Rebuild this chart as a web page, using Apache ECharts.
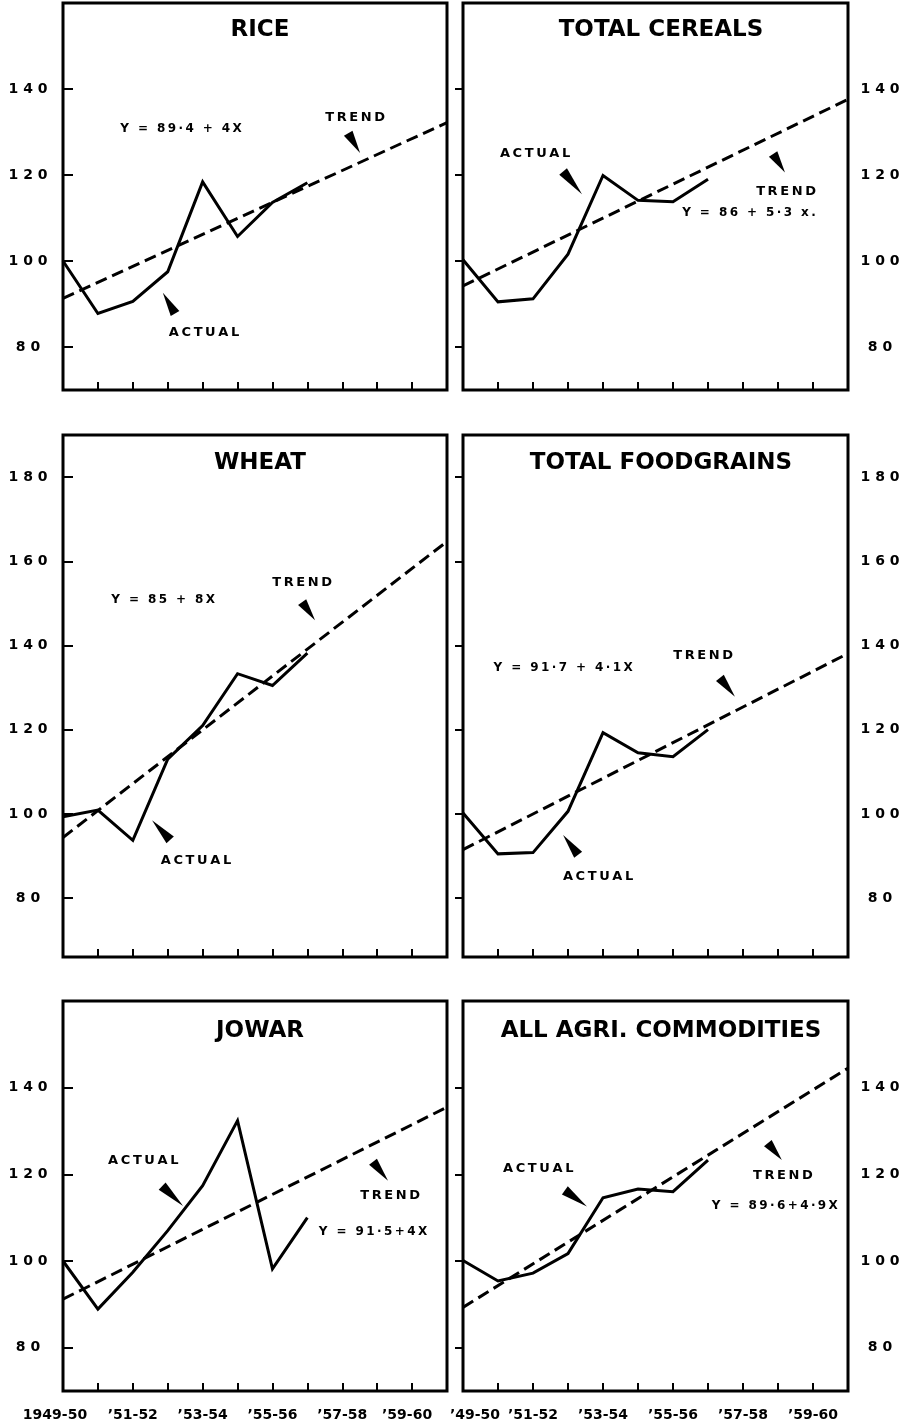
<!DOCTYPE html>
<html>
<head>
<meta charset="utf-8">
<script src="https://cdn.jsdelivr.net/npm/echarts@6/dist/echarts.min.js"></script>
<style>
  html, body { margin: 0; padding: 0; background: #fff; }
  #chart { width: 907px; height: 1423px; }
</style>
</head>
<body>
<div id="chart"></div>
<script>
// seasons on the x axis, 1949-50 is index 0, the box ends at 1960-61
const seasons = ['1949-50', '1950-51', '1951-52', '1952-53', '1953-54', '1954-55',
  '1955-56', '1956-57', '1957-58', '1958-59', '1959-60', '1960-61']
const labelSeasons = [0, 2, 4, 6, 8, 10]
const leftSeasonLabels = ['1949-50', '\u201951-52', '\u201953-54', '\u201955-56', '\u201957-58', '\u201959-60']
const rightSeasonLabels = ['\u201949-50', '\u201951-52', '\u201953-54', '\u201955-56', '\u201957-58', '\u201959-60']
const seasonTicks = [1, 2, 3, 4, 5, 6, 7, 8, 9, 10]

const indexTicksShort = [80, 100, 120, 140]
const indexTicksTall = [80, 100, 120, 140, 160, 180]

// index numbers, 1949-50 = 100 (actual: 1949-50 .. 1956-57)
const riceActual = [100, 87.8, 90.6, 97.5, 118.4, 105.7, 113.6, 118.2]
const cerealsActual = [100.3, 90.5, 91.2, 101.6, 119.9, 114.1, 113.8, 119]
const wheatActual = [99.3, 100.9, 93.7, 113, 121, 133.3, 130.5, 138.2]
const foodgrainsActual = [100.2, 90.5, 90.8, 100.6, 119.3, 114.5, 113.6, 120]
const jowarActual = [100, 88.9, 97.4, 107, 117.4, 132.4, 98.2, 110]
const agriActual = [100.1, 95.4, 97.2, 101.7, 114.6, 116.6, 116, 123.3]

// trend lines, value at the left edge (1949-50) and right edge of the box
const riceTrend = [91.3, 132.2]
const cerealsTrend = [94.2, 137.6]
const wheatTrend = [94.4, 164.7]
const foodgrainsTrend = [91.5, 138.1]
const jowarTrend = [91.2, 135.5]
const agriTrend = [89.3, 144.5]

const titles = ['RICE', 'TOTAL CEREALS', 'WHEAT', 'TOTAL FOODGRAINS', 'JOWAR', 'ALL AGRI. COMMODITIES']
const equations = ['Y = 89\u00b74 + 4X', 'Y = 86 + 5\u00b73 x.', 'Y = 85 + 8X', 'Y = 91\u00b77 + 4\u00b71X', 'Y = 91\u00b75+4X', 'Y = 89\u00b76+4\u00b79X']

const FONT = '"DejaVu Sans", sans-serif'

const cols = [{left: 63, width: 384, mid: 255}, {left: 463, width: 385, mid: 656}]
const rows = [
  {top: 3, height: 387, min: 70, max: 160, ticks: indexTicksShort, titleTop: 14},
  {top: 435, height: 522, min: 66, max: 190, ticks: indexTicksTall, titleTop: 447},
  {top: 1001, height: 390, min: 70, max: 160, ticks: indexTicksShort, titleTop: 1015}
]

// annotation spots, in axis units: [text, x, y] and wedges [baseX, baseY, tipX, tipY]
const panels = [
  {actual: riceActual, trend: riceTrend, row: 0, col: 0,
    notes: [[equations[0], 3.38, 130.8], ['TREND', 8.37, 133.3], ['ACTUAL', 4.04, 83.4]],
    wedges: [[8.17, 129.7, 8.51, 125.1], [3.21, 87.8, 2.86, 92.6]]},
  {actual: cerealsActual, trend: cerealsTrend, row: 0, col: 1,
    notes: [[equations[1], 8.17, 111.1], ['TREND', 9.23, 116.2], ['ACTUAL', 2.06, 124.9]],
    wedges: [[8.86, 124.9, 9.2, 120.6], [2.86, 120.8, 3.4, 115.5]]},
  {actual: wheatActual, trend: wheatTrend, row: 1, col: 0,
    notes: [[equations[2], 2.87, 150.8], ['TREND', 6.85, 155], ['ACTUAL', 3.81, 89]],
    wedges: [[6.85, 150.3, 7.22, 146], [3.07, 93.8, 2.55, 98.5]]},
  {actual: foodgrainsActual, trend: foodgrainsTrend, row: 1, col: 1,
    notes: [[equations[3], 2.86, 134.6], ['TREND', 6.86, 137.7], ['ACTUAL', 3.86, 85.1]],
    wedges: [[7.34, 132.3, 7.77, 127.8], [3.29, 90.3, 2.86, 95]]},
  {actual: jowarActual, trend: jowarTrend, row: 2, col: 0,
    notes: [[equations[4], 8.88, 106.7], ['TREND', 9.37, 115], ['ACTUAL', 2.3, 123.1]],
    wedges: [[8.88, 122.9, 9.31, 118.5], [2.84, 117.3, 3.44, 112.7]]},
  {actual: agriActual, trend: agriTrend, row: 2, col: 1,
    notes: [[equations[5], 8.91, 112.8], ['TREND', 9.14, 119.6], ['ACTUAL', 2.15, 121.4]],
    wedges: [[8.71, 127.2, 9.11, 123.3], [2.91, 116.3, 3.54, 112.6]]}
]

function spaced(s) {
  return s.split('').join('\u2009')
}

// season labels, the outer ones nudged a little like in the print
function seasonLabel(col, v) {
  const k = labelSeasons.indexOf(v)
  const text = (col === 0 ? leftSeasonLabels : rightSeasonLabels)[k]
  if (col === 0 && k === 0) return '{l|' + text + '}'
  if (col === 0 && k === labelSeasons.length - 1) return '{s|' + text + '}'
  if (col === 1 && k === 0) return '{r|' + text + '}'
  return text
}

function renderWedge(params, api) {
  const b = api.coord([api.value(0), api.value(1)])
  const t = api.coord([api.value(2), api.value(3)])
  const dx = t[0] - b[0], dy = t[1] - b[1]
  const len = Math.hypot(dx, dy)
  const nx = -dy / len * 5, ny = dx / len * 5
  return {
    type: 'polygon',
    shape: {points: [[b[0] + nx, b[1] + ny], [b[0] - nx, b[1] - ny], t]},
    style: {fill: '#000'}
  }
}

function noteRenderer(notes) {
  return function (params, api) {
    const p = api.coord([api.value(0), api.value(1)])
    const text = notes[params.dataIndex][0]
    const size = text.charAt(0) === 'Y' ? 12 : 13
    return {
      type: 'text',
      x: p[0],
      y: p[1],
      style: {
        text: spaced(text),
        fill: '#000',
        font: 'bold ' + size + 'px ' + FONT,
        align: 'center',
        verticalAlign: 'middle'
      }
    }
  }
}

const grid = [], xAxis = [], yAxis = [], title = [], series = []
const labelFont = {color: '#000', fontFamily: FONT, fontWeight: 'bold', fontSize: 14}

panels.forEach((p, i) => {
  const col = cols[p.col], row = rows[p.row]
  const bottomRow = p.row === 2
  grid.push({
    left: col.left, top: row.top, width: col.width, height: row.height,
    show: true, borderColor: '#000', borderWidth: 3, backgroundColor: 'transparent',
    outerBoundsMode: 'none', containLabel: false
  })
  title.push({
    text: titles[i], left: col.mid, top: row.titleTop, textAlign: 'center',
    textStyle: {fontFamily: FONT, fontWeight: 'bold', fontSize: 23, color: '#000'}
  })
  xAxis.push({
    gridIndex: i, type: 'value', min: 0, max: seasons.length - 1,
    axisLine: {show: false},
    splitLine: {show: false},
    axisTick: {show: true, inside: true, length: 8, customValues: seasonTicks,
      lineStyle: {color: '#000', width: 2}},
    axisLabel: Object.assign({
      show: bottomRow,
      customValues: labelSeasons,
      formatter: v => seasonLabel(p.col, v),
      margin: 17,
      rich: {
        l: Object.assign({padding: [0, 16, 0, 0]}, labelFont),
        s: Object.assign({padding: [0, 10, 0, 0]}, labelFont),
        r: Object.assign({padding: [0, 0, 0, 24]}, labelFont)
      }
    }, labelFont)
  })
  yAxis.push({
    gridIndex: i, type: 'value', min: row.min, max: row.max,
    position: p.col === 0 ? 'left' : 'right',
    axisLine: {show: false},
    splitLine: {show: false},
    axisTick: {show: true, inside: true, length: p.col === 0 ? 10 : 8, customValues: row.ticks,
      lineStyle: {color: '#000', width: 2}},
    axisLabel: Object.assign({
      customValues: row.ticks,
      formatter: v => String(v).split('').join(' '),
      align: 'center',
      margin: p.col === 0 ? 35 : 32
    }, labelFont)
  })
  series.push({
    name: 'actual', type: 'line', xAxisIndex: i, yAxisIndex: i,
    data: p.actual.map((v, k) => [k, v]),
    showSymbol: false, silent: true,
    lineStyle: {color: '#000', width: 3, join: 'miter'}
  })
  series.push({
    name: 'trend', type: 'line', xAxisIndex: i, yAxisIndex: i,
    data: [[0, p.trend[0]], [seasons.length - 1, p.trend[1]]],
    showSymbol: false, silent: true,
    lineStyle: {color: '#000', width: 3, type: [12, 6]}
  })
  series.push({
    type: 'custom', xAxisIndex: i, yAxisIndex: i, silent: true, clip: false,
    data: p.wedges,
    renderItem: renderWedge
  })
  series.push({
    type: 'custom', xAxisIndex: i, yAxisIndex: i, silent: true, clip: false,
    data: p.notes.map(n => [n[1], n[2]]),
    renderItem: noteRenderer(p.notes)
  })
})

const chartDom = document.getElementById('chart')
const myChart = echarts.init(chartDom)
const option = {
  backgroundColor: '#fff',
  animation: false,
  title: title,
  grid: grid,
  xAxis: xAxis,
  yAxis: yAxis,
  series: series
}
option && myChart.setOption(option)
</script>
</body>
</html>
